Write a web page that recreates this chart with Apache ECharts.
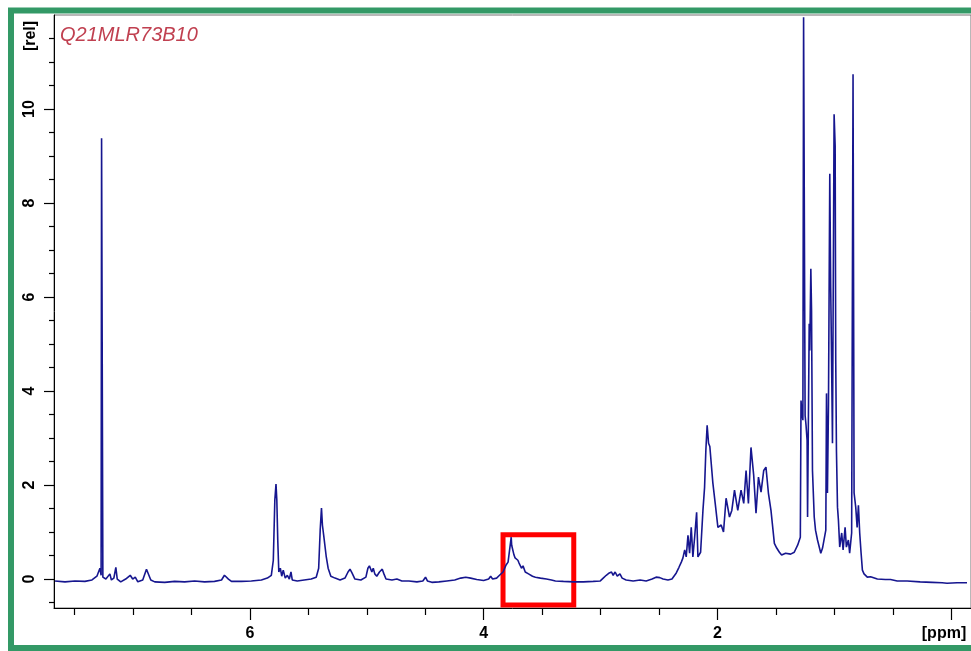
<!DOCTYPE html>
<html>
<head>
<meta charset="utf-8">
<title>Q21MLR73B10 1H NMR</title>
<script src="https://cdn.jsdelivr.net/npm/echarts@6/dist/echarts.min.js"></script>
<style>
  html, body { margin: 0; padding: 0; background: #ffffff; }
  #chart { width: 971px; height: 651px; }
</style>
</head>
<body>
<div id="chart"></div>
<script>
// Chemical shift (ppm) and relative intensity of the 1H spectrum trace
const shiftPpm = [
  7.667, 7.582, 7.497, 7.412, 7.351, 7.309, 7.283, 7.273, 7.269, 7.262,
  7.258, 7.232, 7.215, 7.198, 7.185, 7.164, 7.147, 7.135, 7.105, 7.063,
  7.024, 7.003, 6.981, 6.959, 6.917, 6.885, 6.870, 6.848, 6.814, 6.729,
  6.644, 6.559, 6.473, 6.388, 6.303, 6.243, 6.218, 6.201, 6.184, 6.158,
  6.073, 5.988, 5.902, 5.851, 5.817, 5.800, 5.787, 5.777, 5.770, 5.762,
  5.753, 5.740, 5.728, 5.715, 5.698, 5.680, 5.663, 5.649, 5.638, 5.595,
  5.536, 5.476, 5.433, 5.412, 5.399, 5.388, 5.380, 5.369, 5.361, 5.348,
  5.331, 5.308, 5.272, 5.229, 5.187, 5.161, 5.144, 5.127, 5.102, 5.051,
  5.008, 4.991, 4.978, 4.968, 4.957, 4.945, 4.932, 4.915, 4.892, 4.868,
  4.854, 4.836, 4.785, 4.743, 4.700, 4.640, 4.572, 4.521, 4.498, 4.482,
  4.444, 4.384, 4.316, 4.248, 4.197, 4.154, 4.112, 4.060, 4.001, 3.958,
  3.941, 3.924, 3.890, 3.865, 3.835, 3.809, 3.792, 3.780, 3.765, 3.761,
  3.751, 3.741, 3.732, 3.719, 3.708, 3.698, 3.688, 3.677, 3.664, 3.645,
  3.617, 3.583, 3.558, 3.515, 3.464, 3.421, 3.387, 3.319, 3.234, 3.148,
  3.063, 3.003, 2.978, 2.952, 2.926, 2.907, 2.893, 2.876, 2.858, 2.835,
  2.816, 2.782, 2.722, 2.662, 2.611, 2.560, 2.526, 2.494, 2.466, 2.424,
  2.390, 2.353, 2.330, 2.310, 2.296, 2.281, 2.268, 2.253, 2.239, 2.225,
  2.211, 2.196, 2.179, 2.168, 2.145, 2.125, 2.111, 2.100, 2.089, 2.077,
  2.066, 2.060, 2.040, 2.020, 1.997, 1.969, 1.949, 1.927, 1.898, 1.878,
  1.855, 1.827, 1.799, 1.776, 1.756, 1.736, 1.714, 1.691, 1.671, 1.650,
  1.628, 1.605, 1.586, 1.565, 1.543, 1.514, 1.494, 1.471, 1.452, 1.435,
  1.418, 1.401, 1.375, 1.344, 1.315, 1.292, 1.286, 1.279, 1.270, 1.264,
  1.256, 1.251, 1.243, 1.234, 1.230, 1.216, 1.211, 1.202, 1.196, 1.188,
  1.173, 1.162, 1.145, 1.128, 1.117, 1.102, 1.088, 1.074, 1.068, 1.060,
  1.051, 1.040, 1.032, 1.023, 1.017, 1.003, 0.994, 0.989, 0.983, 0.974,
  0.966, 0.955, 0.938, 0.926, 0.909, 0.898, 0.881, 0.870, 0.853, 0.841,
  0.832, 0.818, 0.806, 0.795, 0.784, 0.772, 0.761, 0.747, 0.719, 0.691,
  0.633, 0.565, 0.520, 0.463, 0.378, 0.267, 0.165, 0.079, 0.037, -0.049,
  -0.134
];
const intensity = [
  -0.04, -0.06, -0.04, -0.05, -0.02, 0.06, 0.23, 0.08, 9.38, 9.38,
  0.04, 0.00, -0.04, 0.11, -0.02, 0.02, 0.25, 0.00, -0.06, 0.00,
  0.08, 0.00, 0.04, -0.06, -0.02, 0.21, 0.19, -0.02, -0.06, -0.07,
  -0.05, -0.06, -0.04, -0.06, -0.05, -0.02, 0.08, 0.11, 0.00, -0.05,
  -0.05, -0.04, -0.02, 0.02, 0.08, 0.40, 1.68, 2.02, 1.68, 0.83,
  0.15, 0.23, 0.06, 0.19, 0.02, 0.08, 0.00, 0.15, -0.02, -0.04,
  -0.02, 0.00, 0.04, 0.23, 1.04, 1.51, 1.15, 0.93, 0.89, 0.49,
  0.23, 0.06, 0.02, -0.02, 0.02, 0.15, 0.21, 0.13, 0.00, -0.02,
  0.04, 0.23, 0.28, 0.30, 0.15, 0.23, 0.11, 0.06, 0.15, 0.21,
  0.11, 0.00, -0.02, 0.00, -0.04, -0.04, -0.06, -0.04, 0.04, -0.04,
  -0.07, -0.06, -0.04, -0.02, 0.02, 0.04, 0.02, -0.01, -0.03, 0.00,
  0.06, 0.00, 0.02, 0.08, 0.15, 0.30, 0.36, 0.40, 0.89, 0.72,
  0.68, 0.51, 0.45, 0.49, 0.40, 0.34, 0.32, 0.23, 0.28, 0.15,
  0.11, 0.06, 0.04, 0.02, 0.00, -0.02, -0.04, -0.05, -0.06, -0.06,
  -0.05, -0.04, 0.02, 0.08, 0.13, 0.15, 0.08, 0.15, 0.06, 0.11,
  0.02, -0.02, -0.04, -0.02, -0.04, 0.00, 0.04, 0.03, 0.00, -0.02,
  0.00, 0.13, 0.25, 0.36, 0.45, 0.62, 0.47, 0.93, 0.55, 1.10,
  0.47, 0.89, 1.42, 0.47, 0.57, 1.46, 1.95, 2.74, 3.27, 2.89,
  2.82, 2.78, 2.04, 1.61, 1.10, 1.15, 1.00, 1.72, 1.32, 1.46,
  1.89, 1.46, 1.89, 1.61, 2.31, 1.61, 2.80, 2.21, 1.40, 2.17,
  1.85, 2.31, 2.38, 1.83, 1.46, 0.76, 0.66, 0.57, 0.51, 0.47,
  0.55, 0.57, 0.53, 0.57, 0.72, 0.89, 3.80, 3.55, 3.38, 11.95,
  11.95, 3.48, 3.27, 2.95, 1.32, 5.43, 4.86, 6.60, 5.71, 2.31,
  1.32, 1.04, 0.83, 0.66, 0.55, 0.66, 0.62, 1.04, 3.95, 1.83,
  3.74, 8.62, 6.20, 4.29, 2.89, 9.89, 9.21, 4.65, 2.74, 1.53,
  1.25, 0.68, 0.98, 0.62, 1.10, 0.68, 0.83, 0.55, 0.98, 10.74,
  1.83, 1.53, 1.10, 1.57, 0.98, 0.55, 0.19, 0.11, 0.04, 0.05,
  0.00, -0.01, -0.01, -0.04, -0.04, -0.06, -0.07, -0.08, -0.09, -0.08,
  -0.08
];

// Axis ranges and tick positions
const ppmRange = [-0.168, 7.676];
const relRange = [-0.616, 12];
const ppmLabelTicks = [2, 4, 6];
const ppmMajorTicks = [0, 2, 4, 6];
const ppmMinorTicks = [0.5, 1, 1.5, 2.5, 3, 3.5, 4.5, 5, 5.5, 6.5, 7, 7.5];
const relLabelTicks = [0, 2, 4, 6, 8, 10];
const relMinorTicks = [-0.5, 0.5, 1, 1.5, 2.5, 3, 3.5, 4.5, 5, 5.5, 6.5, 7, 7.5, 8.5, 9, 9.5, 10.5, 11, 11.5];

// Highlighted region (ppm, rel) corners
const highlightBox = [[3.835, 0.945], [3.23, -0.55]];

const sampleName = 'Q21MLR73B10';

const spectrum = shiftPpm.map((p, i) => [p, intensity[i]]);

const chart = echarts.init(document.getElementById('chart'), null, { renderer: 'canvas' });

const labelFont = {
  fontFamily: '"Liberation Sans", Arial, sans-serif',
  fontWeight: 'bold',
  fontSize: 16,
  color: '#000000'
};

chart.setOption({
  animation: false,
  backgroundColor: '#ffffff',
  grid: {
    left: 54, top: 15, width: 920, height: 593,
    show: true, borderColor: '#707070', borderWidth: 1, backgroundColor: 'transparent'
  },
  xAxis: [
    {
      type: 'value', inverse: true, min: ppmRange[0], max: ppmRange[1],
      position: 'bottom',
      axisLine: { show: true, onZero: false, lineStyle: { color: '#000000', width: 1 } },
      axisTick: { show: true, customValues: ppmMajorTicks, length: 12, lineStyle: { color: '#000000', width: 1.2 } },
      axisLabel: Object.assign({ customValues: ppmLabelTicks, margin: 18 }, labelFont),
      splitLine: { show: false }
    },
    {
      type: 'value', inverse: true, min: ppmRange[0], max: ppmRange[1],
      position: 'bottom',
      axisLine: { show: false, onZero: false },
      axisTick: { show: true, customValues: ppmMinorTicks, length: 7, lineStyle: { color: '#000000', width: 1.2 } },
      axisLabel: { show: false },
      splitLine: { show: false }
    }
  ],
  yAxis: [
    {
      type: 'value', min: relRange[0], max: relRange[1],
      position: 'left',
      axisLine: { show: true, onZero: false, lineStyle: { color: '#000000', width: 1 } },
      axisTick: { show: true, customValues: relLabelTicks, length: 10, lineStyle: { color: '#000000', width: 1.2 } },
      axisLabel: Object.assign({ customValues: relLabelTicks, margin: 16, rotate: 90 }, labelFont),
      splitLine: { show: false }
    },
    {
      type: 'value', min: relRange[0], max: relRange[1],
      position: 'left',
      axisLine: { show: false, onZero: false },
      axisTick: { show: true, customValues: relMinorTicks, length: 5, lineStyle: { color: '#000000', width: 1.2 } },
      axisLabel: { show: false },
      splitLine: { show: false }
    }
  ],
  series: [
    {
      type: 'line',
      xAxisIndex: 0,
      yAxisIndex: 0,
      data: spectrum,
      showSymbol: false,
      symbol: 'none',
      clip: true,
      lineStyle: { color: '#16168f', width: 1.6 },
      markArea: {
        silent: true,
        itemStyle: { color: 'rgba(0,0,0,0)', borderColor: '#ff0000', borderWidth: 5 },
        data: [[{ coord: highlightBox[0] }, { coord: highlightBox[1] }]]
      }
    }
  ],
  graphic: [
    {
      type: 'rect', silent: true, z: 100,
      shape: { x: 11, y: 10.5, width: 990, height: 637.5 },
      style: { fill: null, stroke: '#339966', lineWidth: 6 }
    },
    {
      type: 'text', silent: true, z: 100,
      x: 60, y: 35,
      style: {
        text: sampleName,
        fontFamily: '"Liberation Sans", Arial, sans-serif',
        fontStyle: 'italic', fontSize: 20,
        fill: '#c04050',
        verticalAlign: 'middle', align: 'left'
      }
    },
    {
      type: 'text', silent: true, z: 100,
      x: 31, y: 36, rotation: Math.PI / 2,
      style: {
        text: '[rel]',
        fontFamily: '"Liberation Sans", Arial, sans-serif',
        fontWeight: 'bold', fontSize: 16, fill: '#000000',
        align: 'center', verticalAlign: 'middle'
      }
    },
    {
      type: 'text', silent: true, z: 100,
      x: 944, y: 634,
      style: {
        text: '[ppm]',
        fontFamily: '"Liberation Sans", Arial, sans-serif',
        fontWeight: 'bold', fontSize: 16, fill: '#000000',
        align: 'center', verticalAlign: 'middle'
      }
    }
  ]
});
</script>
</body>
</html>
